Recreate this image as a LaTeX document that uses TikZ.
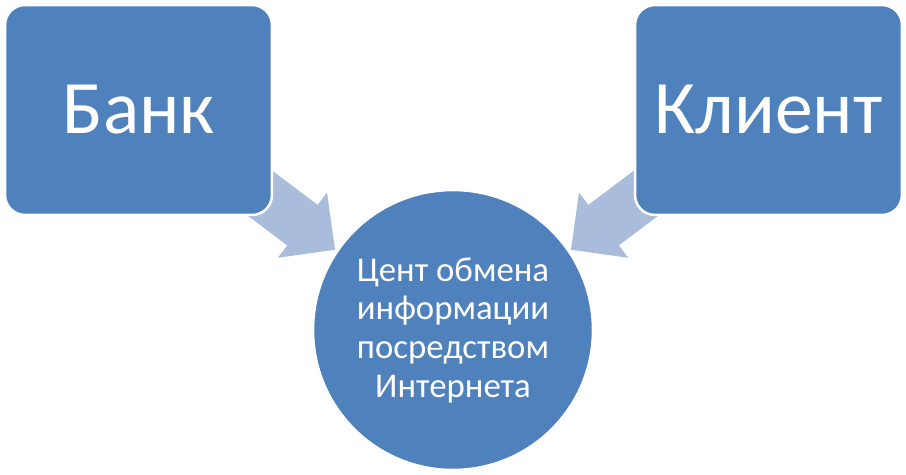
\documentclass[tikz,border=0pt]{standalone}
\usepackage{fontspec}
\setmainfont{Carlito}
\usetikzlibrary{shapes.arrows}
\definecolor{tile}{RGB}{79,129,189}
\definecolor{pale}{RGB}{170,188,220}
\tikzset{
  party/.style={draw=white,line width=0.05cm,fill=tile,rounded corners=0.4cm,
    minimum width=5.34cm,minimum height=4.2cm,inner sep=0pt,text=white,
    font=\fontsize{43}{50}\selectfont},
  hub/.style={circle,draw=white,line width=0.05cm,fill=tile,minimum size=5.6cm,
    inner sep=0pt,text=white,align=center,font=\fontsize{19.8}{22}\selectfont},
  feed/.style={single arrow,fill=pale,draw=none,inner sep=0.5cm,
    single arrow head extend=0.31cm,minimum height=2.2cm,rotate=#1},
}
\begin{document}
\begin{tikzpicture}[x=0.02cm,y=-0.02cm]
  \useasboundingbox (0,0) rectangle (906,474);
  % block arrows (behind the tiles)
  \node[feed=-37] (inL) at (281,209) {};
  \node[feed=-143] (inR) at (625,209) {};
  % tiles
  \node[party] (bank) at (138.5,110) {Банк};
  \node[party] (client) at (768.5,110) {Клиент};
  \node[hub] (centre) at (453,330) {Цент обмена\\информации\\посредством\\Интернета};
\end{tikzpicture}
\end{document}
